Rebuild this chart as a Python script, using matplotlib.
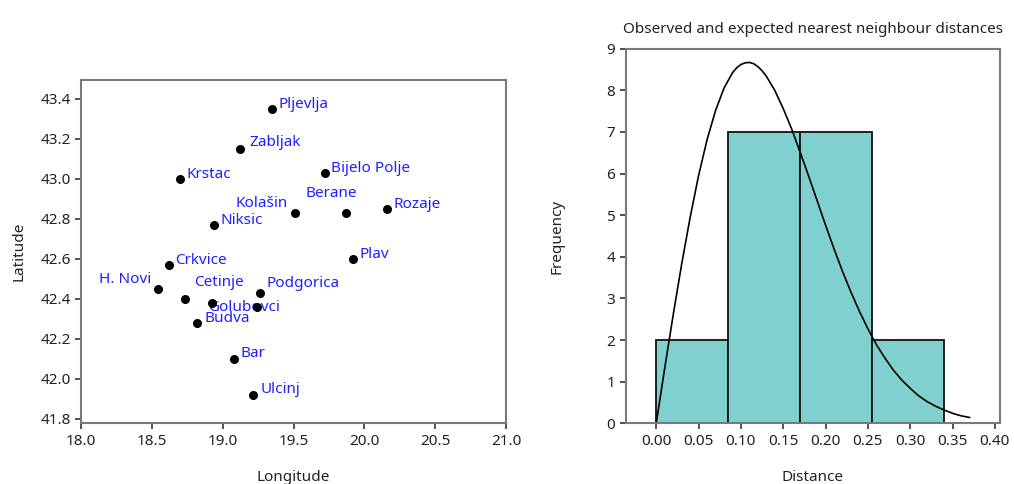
import matplotlib.pyplot as plt

plt.rcParams['font.family'] = ['Noto Sans', 'DejaVu Sans']

# towns (lon, lat)
towns = ['Pljevlja', 'Zabljak', 'Krstac', 'Bijelo Polje', 'Kolašin', 'Berane', 'Rozaje',
         'Niksic', 'Plav', 'Crkvice', 'H. Novi', 'Cetinje', '', 'Podgorica', 'Golubovci',
         'Budva', 'Bar', 'Ulcinj']
lon = [19.35, 19.12, 18.70, 19.72, 19.51, 19.87, 20.16,
       18.94, 19.92, 18.62, 18.54, 18.92, 18.73, 19.26, 19.24,
       18.82, 19.08, 19.21]
lat = [43.35, 43.15, 43.00, 43.03, 42.83, 42.83, 42.85,
       42.77, 42.60, 42.57, 42.45, 42.38, 42.40, 42.43, 42.36,
       42.28, 42.10, 41.92]

# histogram of nearest neighbour distances
bin_edges = [0.0, 0.085, 0.17, 0.255, 0.34]
counts = [2, 7, 7, 2]

# expected curve
curve_x = [0.000, 0.010, 0.020, 0.030, 0.040, 0.050, 0.060, 0.070, 0.080, 0.090, 0.095,
           0.100, 0.105, 0.110, 0.115, 0.120, 0.125, 0.130, 0.140, 0.150, 0.160, 0.170,
           0.180, 0.190, 0.200, 0.210, 0.220, 0.230, 0.240, 0.250, 0.260, 0.270, 0.280,
           0.290, 0.300, 0.310, 0.320, 0.330, 0.340, 0.350, 0.360, 0.370]
curve_y = [0.00, 1.32, 2.60, 3.82, 4.94, 5.95, 6.81, 7.51, 8.05, 8.42, 8.54,
           8.62, 8.66, 8.67, 8.64, 8.57, 8.47, 8.34, 8.00, 7.56, 7.07, 6.51,
           5.94, 5.35, 4.76, 4.19, 3.65, 3.15, 2.69, 2.27, 1.89, 1.57, 1.28,
           1.04, 0.84, 0.66, 0.52, 0.41, 0.32, 0.24, 0.18, 0.14]

# label placement in pixels (dx, dy, ha)
label_pos = {
    'Pljevlja': (6, 4, 'left'), 'Zabljak': (10, 6, 'left'), 'Krstac': (6, 4, 'left'),
    'Bijelo Polje': (6, 4, 'left'), 'Kolašin': (-7, 9, 'right'), 'Berane': (-15, 19, 'center'),
    'Rozaje': (6, 4, 'left'), 'Niksic': (6, 4, 'left'), 'Plav': (6, 4, 'left'),
    'Crkvice': (6, 4, 'left'), 'H. Novi': (-7, 9, 'right'), 'Cetinje': (7, 20, 'center'),
    'Podgorica': (7, 9, 'left'), 'Golubovci': (-13, -1, 'center'), 'Budva': (7, 4, 'left'),
    'Bar': (6, 5, 'left'), 'Ulcinj': (8, 5, 'left'),
}

spine_col = '#7a7a7a'
fs = 11
fig = plt.figure(figsize=(10.14, 4.84), dpi=100)

def style(ax):
    for s in ax.spines.values():
        s.set_color(spine_col)
        s.set_linewidth(1.5)
    ax.tick_params(direction='out', length=4, width=1.2, color='#333333',
                   labelsize=fs, labelcolor='#222222')

ax1 = fig.add_axes([0.0802, 0.1254, 0.4188, 0.7093])
style(ax1)
ax1.scatter(lon, lat, s=30, color='black', zorder=3)
for name, x, y in zip(towns, lon, lat):
    if not name:
        continue
    dx, dy, ha = label_pos[name]
    ax1.annotate(name, (x, y), xytext=(dx, dy), textcoords='offset pixels',
                 ha=ha, va='center', color='#1f1fff', fontsize=fs, zorder=2)
ax1.set_xlim(18.0, 21.0)
ax1.set_ylim(41.776, 43.495)
ax1.set_xticks([18.0, 18.5, 19.0, 19.5, 20.0, 20.5, 21.0])
ax1.set_xticklabels(['18.0', '18.5', '19.0', '19.5', '20.0', '20.5', '21.0'])
ax1.set_yticks([41.8, 42.0, 42.2, 42.4, 42.6, 42.8, 43.0, 43.2, 43.4])
ax1.set_yticklabels(['41.8', '42.0', '42.2', '42.4', '42.6', '42.8', '43.0', '43.2', '43.4'])
ax1.set_xlabel('Longitude', fontsize=fs, color='#222222', labelpad=15)
ax1.set_ylabel('Latitude', fontsize=fs, color='#222222', labelpad=10)

ax2 = fig.add_axes([0.6171, 0.1254, 0.3691, 0.774])
style(ax2)
widths = [bin_edges[i + 1] - bin_edges[i] for i in range(len(counts))]
ax2.bar(bin_edges[:-1], counts, width=widths, align='edge', color='#80d0d0',
        edgecolor='#111111', linewidth=1.3)
ax2.plot(curve_x, curve_y, color='black', linewidth=1.2)
ax2.set_xlim(-0.036, 0.406)
ax2.set_ylim(0, 9)
ax2.set_xticks([0.0, 0.05, 0.1, 0.15, 0.2, 0.25, 0.3, 0.35, 0.4])
ax2.set_xticklabels(['0.00', '0.05', '0.10', '0.15', '0.20', '0.25', '0.30', '0.35', '0.40'])
ax2.set_yticks(range(10))
ax2.set_xlabel('Distance', fontsize=fs, color='#222222', labelpad=15)
ax2.set_ylabel('Frequency', fontsize=fs, color='#222222', labelpad=30)
ax2.set_title('Observed and expected nearest neighbour distances', fontsize=fs,
              color='#222222', pad=11)

fig.savefig('out.png', dpi=100)
